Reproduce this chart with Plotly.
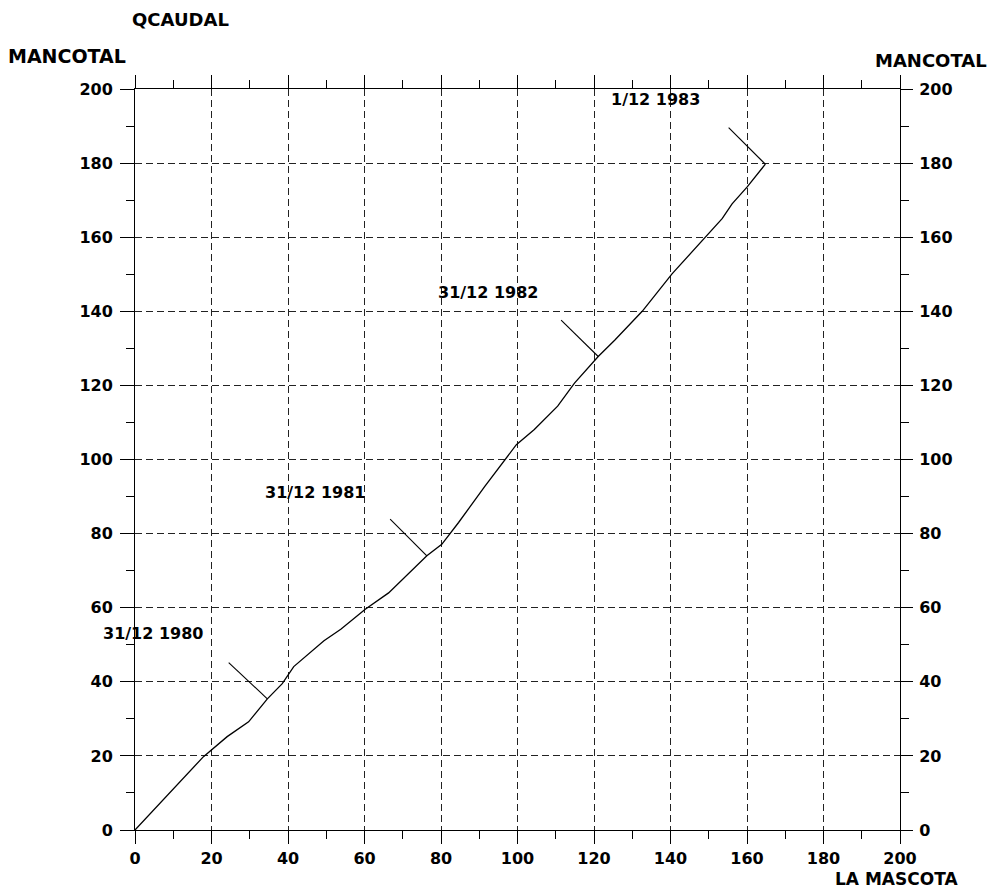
import plotly.graph_objects as go

# Double-mass curve data (cumulative values)
la_mascota = [0, 17.9, 24.1, 29.7, 34.6, 38.5, 41.5, 49.4, 53.8, 60.2, 66.3, 76.3, 80.2, 84.6,
              91.5, 99.7, 104.4, 110.5, 114.9, 121.1, 125.4, 132.6, 140.4, 149.1, 153.5, 156.1,
              160.0, 164.8]
mancotal = [0, 19.8, 25.2, 29.2, 35.4, 39.5, 44.1, 51.1, 54.2, 59.6, 64.0, 74.0, 77.1, 83.0,
            92.8, 104.0, 108.1, 114.4, 120.6, 127.8, 132.2, 140.0, 150.1, 160.0, 165.0, 169.0,
            173.5, 179.7]

# Date marker leaders: from point on curve to label side
leader_x0 = [34.6, 76.3, 121.1, 164.8]
leader_y0 = [35.4, 74.0, 127.8, 179.7]
leader_x1 = [24.5, 66.7, 111.4, 155.2]
leader_y1 = [45.2, 83.9, 137.6, 189.6]

label_text = ["31/12 1980", "31/12 1981", "31/12 1982", "1/12 1983"]
label_x = [4.7, 47.0, 92.2, 136.0]
label_y = [53.0, 91.0, 145.1, 197.2]

tick_vals = [0, 20, 40, 60, 80, 100, 120, 140, 160, 180, 200]
tick_text = [str(v) for v in tick_vals]

FONT = "DejaVu Sans"
BLACK = "#000000"

lx, ly = [], []
for a, b, c, d in zip(leader_x0, leader_y0, leader_x1, leader_y1):
    lx += [a, c, None]
    ly += [b, d, None]

fig = go.Figure()
fig.add_trace(go.Scatter(x=la_mascota, y=mancotal, mode="lines",
                         line=dict(color=BLACK, width=1.3), showlegend=False,
                         hoverinfo="skip"))
fig.add_trace(go.Scatter(x=lx, y=ly, mode="lines",
                         line=dict(color=BLACK, width=1.1), showlegend=False,
                         hoverinfo="skip"))
# invisible trace to register right axis
fig.add_trace(go.Scatter(x=la_mascota, y=mancotal, mode="lines", yaxis="y2",
                         line=dict(color="rgba(0,0,0,0)", width=0), showlegend=False,
                         hoverinfo="skip"))

for t, x, y in zip(label_text, label_x, label_y):
    fig.add_annotation(x=x, y=y, text=t, showarrow=False, xanchor="center", yanchor="middle",
                       font=dict(family=FONT, size=16, color=BLACK, weight="bold"))

axis_font = dict(family=FONT, size=16, color=BLACK, weight="bold")
minor = dict(dtick=10, ticklen=8, tickcolor=BLACK, tickwidth=1, showgrid=False)

fig.update_layout(
    width=998, height=884,
    margin=dict(l=127, r=106, t=81, b=62),
    paper_bgcolor="white", plot_bgcolor="white",
    showlegend=False,
    xaxis=dict(range=[0, 200], tickvals=tick_vals, ticktext=tick_text,
               showgrid=True, gridcolor="#222222", gridwidth=1.2, griddash="7px,4px",
               zeroline=False, showline=True, linecolor=BLACK, linewidth=1,
               mirror="ticks", ticks="outside", ticklen=13, tickcolor=BLACK, tickwidth=1,
               minor=minor, tickfont=axis_font, ticklabelstandoff=1),
    yaxis=dict(range=[0, 200], tickvals=tick_vals, ticktext=tick_text,
               showgrid=True, gridcolor="#222222", gridwidth=1.2, griddash="7px,4px",
               zeroline=False, showline=True, linecolor=BLACK, linewidth=1,
               ticks="outside", ticklen=14, tickcolor=BLACK, tickwidth=1,
               minor=minor, tickfont=axis_font, ticklabelstandoff=4),
    yaxis2=dict(range=[0, 200], tickvals=tick_vals, ticktext=tick_text,
                overlaying="y", side="right", anchor="x",
                showgrid=False, zeroline=False, showline=True, linecolor=BLACK, linewidth=1,
                ticks="outside", ticklen=12, tickcolor=BLACK, tickwidth=1,
                minor=minor, tickfont=axis_font, ticklabelstandoff=3),
)

title_font = dict(family=FONT, size=18, color=BLACK, weight="bold")
fig.add_annotation(x=0.060, y=1.0944, xref="paper", yref="paper", text="QCAUDAL",
                   showarrow=False, xanchor="center", yanchor="middle", font=title_font)
fig.add_annotation(x=-0.0888, y=1.0445, xref="paper", yref="paper", text="MANCOTAL",
                   showarrow=False, xanchor="center", yanchor="middle", font=dict(title_font, size=19))
fig.add_annotation(x=1.0405, y=1.0378, xref="paper", yref="paper", text="MANCOTAL",
                   showarrow=False, xanchor="center", yanchor="middle", font=dict(title_font, size=18))
fig.add_annotation(x=0.9948, y=-0.0665, xref="paper", yref="paper", text="LA MASCOTA",
                   showarrow=False, xanchor="center", yanchor="middle", font=dict(title_font, size=17))

fig.write_html("out.html")
